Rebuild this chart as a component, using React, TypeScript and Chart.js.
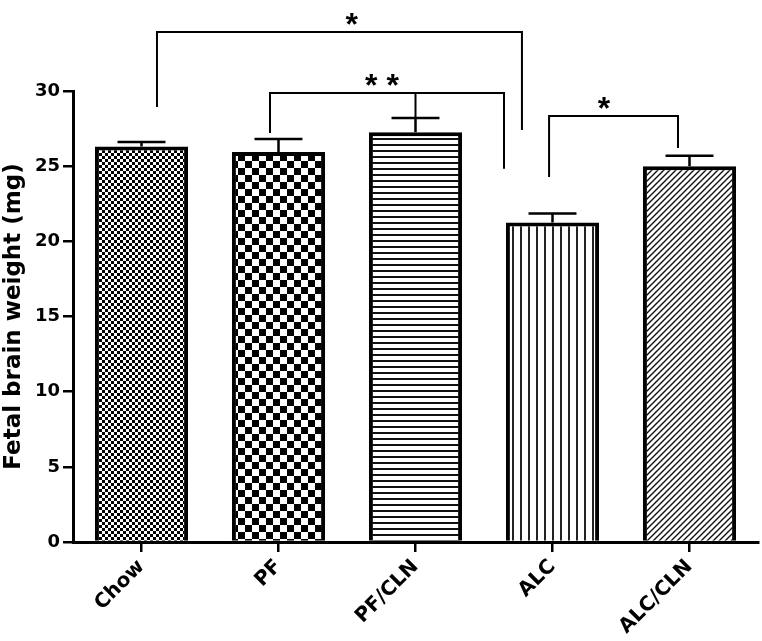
import React, { useEffect, useRef } from 'react';
import { Chart, registerables } from 'chart.js';

Chart.register(...registerables);

const categories = ['Chow', 'PF', 'PF/CLN', 'ALC', 'ALC/CLN'];
const means = [26.3, 25.95, 27.25, 21.25, 25.0];
const sem = [0.3, 0.85, 0.95, 0.6, 0.7];
const yTickValues = [0, 5, 10, 15, 20, 25, 30];
const yTitle = 'Fetal brain weight (mg)';

// significance brackets: x in category-index units, y in data units
const bracketFrom = [0.113, 0.938, 2.975];
const bracketTo = [2.777, 2.646, 3.916];
const bracketTop = [33.93, 29.87, 28.34];
const bracketFromEnd = [28.94, 27.21, 24.28];
const bracketToEnd = [27.41, 24.82, 26.21];
const bracketMidAt = [null, 2.0, null];
const bracketMidEnd = [null, 28.21, null];
const bracketLabels = ['*', '* *', '*'];
const bracketLabelAt = [1.534, 1.755, 3.376];

const FONT = '"DejaVu Sans", "Liberation Sans", Arial, sans-serif';
const STAR_FONT = '"Liberation Sans", Arial, Helvetica, sans-serif';

function makePattern(kind: string): CanvasPattern | string {
  const c = document.createElement('canvas');
  const g = c.getContext('2d')!;
  if (kind === 'fineChecker') {
    const s = 3;
    c.width = s * 2; c.height = s * 2;
    g.fillStyle = '#fff'; g.fillRect(0, 0, c.width, c.height);
    g.fillStyle = '#000';
    g.fillRect(0, 0, s, s); g.fillRect(s, s, s, s);
  } else if (kind === 'checker') {
    const s = 7;
    c.width = s * 2; c.height = s * 2;
    g.fillStyle = '#fff'; g.fillRect(0, 0, c.width, c.height);
    g.fillStyle = '#000';
    g.fillRect(0, 0, s, s); g.fillRect(s, s, s, s);
  } else if (kind === 'hlines') {
    c.width = 6; c.height = 6;
    g.fillStyle = '#fff'; g.fillRect(0, 0, 6, 6);
    g.fillStyle = '#111'; g.fillRect(0, 0, 6, 2);
  } else if (kind === 'vlines') {
    c.width = 8; c.height = 8;
    g.fillStyle = '#fff'; g.fillRect(0, 0, 8, 8);
    g.fillStyle = '#222'; g.fillRect(0, 0, 2, 8);
  } else {
    const s = 6;
    c.width = s; c.height = s;
    g.fillStyle = '#fff'; g.fillRect(0, 0, s, s);
    g.strokeStyle = '#111'; g.lineWidth = 1.4;
    g.beginPath();
    g.moveTo(-1, s + 1); g.lineTo(s + 1, -1);
    g.moveTo(-1, 1); g.lineTo(1, -1);
    g.moveTo(s - 1, s + 1); g.lineTo(s + 1, s - 1);
    g.stroke();
  }
  return g.createPattern(c, 'repeat') || '#888';
}

const overlay = {
  id: 'overlay',
  afterDatasetsDraw(chart: any) {
    const { ctx } = chart;
    const x = chart.scales.x;
    const y = chart.scales.y;
    ctx.save();
    ctx.strokeStyle = '#000';
    ctx.lineCap = 'butt';
    // error bars (upper only)
    ctx.lineWidth = 2.5;
    means.forEach((m, i) => {
      const cx = x.getPixelForValue(i);
      const y0 = y.getPixelForValue(m);
      const y1 = y.getPixelForValue(m + sem[i]);
      const hw = x.getPixelForValue(i + 0.175) - cx;
      ctx.beginPath();
      ctx.moveTo(cx, y0);
      ctx.lineTo(cx, y1);
      ctx.moveTo(cx - hw, y1);
      ctx.lineTo(cx + hw, y1);
      ctx.stroke();
    });
    // significance brackets
    ctx.lineWidth = 2;
    bracketLabels.forEach((lab, k) => {
      const xa = x.getPixelForValue(bracketFrom[k]);
      const xb = x.getPixelForValue(bracketTo[k]);
      const yt = y.getPixelForValue(bracketTop[k]);
      ctx.beginPath();
      ctx.moveTo(xa, y.getPixelForValue(bracketFromEnd[k]));
      ctx.lineTo(xa, yt);
      ctx.lineTo(xb, yt);
      ctx.lineTo(xb, y.getPixelForValue(bracketToEnd[k]));
      const ma = bracketMidAt[k];
      const me = bracketMidEnd[k];
      if (ma !== null && me !== null) {
        const xm = x.getPixelForValue(ma);
        ctx.moveTo(xm, yt);
        ctx.lineTo(xm, y.getPixelForValue(me));
      }
      ctx.stroke();
      ctx.fillStyle = '#000';
      ctx.font = `bold 32px ${STAR_FONT}`;
      ctx.textAlign = 'center';
      ctx.textBaseline = 'alphabetic';
      ctx.fillText(lab, x.getPixelForValue(bracketLabelAt[k]), yt + 3);
    });
    ctx.restore();
  },
};

export default function App() {
  const ref = useRef<HTMLCanvasElement | null>(null);
  useEffect(() => {
    if (!ref.current) return;
    const patterns = ['fineChecker', 'checker', 'hlines', 'vlines', 'diag'].map(makePattern);
    const chart = new Chart(ref.current, {
      type: 'bar',
      data: {
        labels: categories,
        datasets: [
          {
            data: means,
            backgroundColor: patterns as any,
            borderColor: '#000',
            borderWidth: 4,
            barPercentage: 0.68,
            categoryPercentage: 1,
          },
        ],
      },
      options: {
        responsive: false,
        animation: false,
        layout: { padding: { top: 91, right: 4, left: 0, bottom: 0 } },
        plugins: { legend: { display: false }, tooltip: { enabled: false } },
        scales: {
          x: {
            offset: true,
            grid: { offset: false, drawOnChartArea: false, drawTicks: true, tickLength: 10, color: '#000', lineWidth: 2.5 },
            border: { display: true, color: '#000', width: 3 },
            ticks: {
              color: '#000',
              font: { family: FONT, weight: 'bold', size: 20 },
              maxRotation: 45,
              minRotation: 45,
              autoSkip: false,
              padding: 3,
            },
            afterFit: (s: any) => { s.height = 99; s.paddingLeft = 0; s.paddingRight = 0; },
          } as any,
          y: {
            min: 0,
            max: 30,
            afterBuildTicks: (s: any) => { s.ticks = yTickValues.map((v) => ({ value: v })); },
            grid: { drawOnChartArea: false, drawTicks: true, tickLength: 10, color: '#000', lineWidth: 2.5 },
            border: { display: true, color: '#000', width: 3 },
            ticks: {
              color: '#000',
              font: { family: FONT, weight: 'bold', size: 18 },
              padding: 3,
            },
            title: {
              display: true,
              text: yTitle,
              color: '#000',
              font: { family: FONT, weight: 'bold', size: 23 },
              padding: { top: 0, bottom: 0 },
            },
            afterFit: (s: any) => { s.width = 73; s.paddingTop = 0; s.paddingBottom = 0; },
          } as any,
        },
      },
      plugins: [overlay],
    });
    return () => chart.destroy();
  }, []);
  return (
    <canvas
      ref={ref}
      width={762}
      height={641}
      style={{ position: 'absolute', left: 0, top: 0, display: 'block', background: '#fff' }}
    />
  );
}
